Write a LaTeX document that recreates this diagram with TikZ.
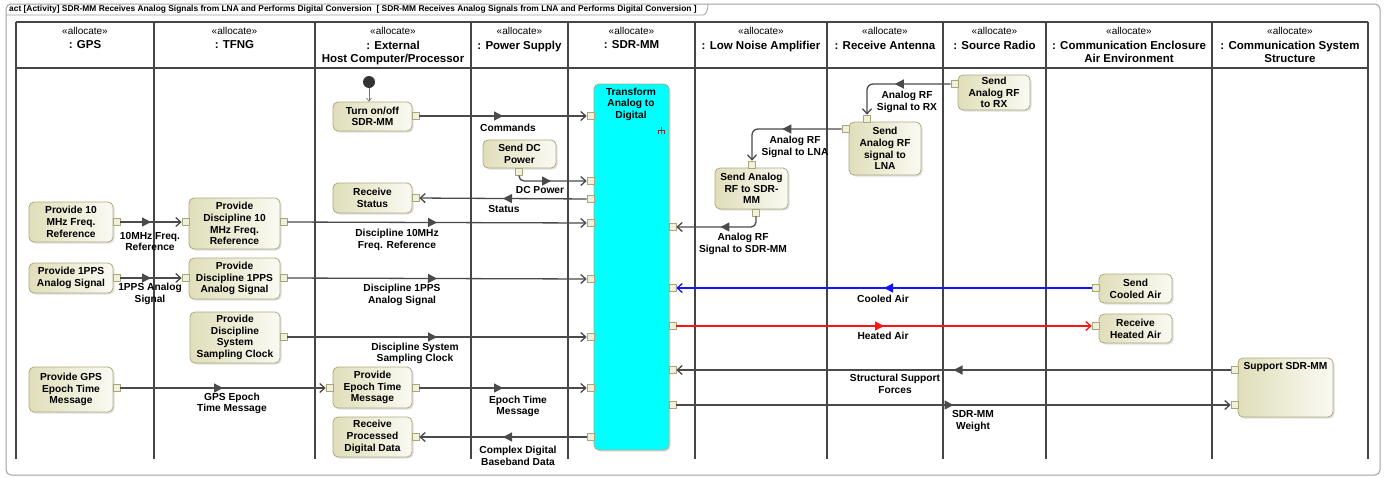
\documentclass[tikz,border=0pt]{standalone}
\usepackage{fontspec}
\setmainfont{Liberation Sans}
\usetikzlibrary{arrows.meta,decorations.markings,shadows}

\definecolor{framegray}{HTML}{A0A0A0}
\definecolor{lanegray}{HTML}{454545}
\definecolor{flowgray}{HTML}{4A4A4A}
\definecolor{actA}{HTML}{E0DEBA}
\definecolor{actB}{HTML}{FAFAF3}
\definecolor{actborder}{HTML}{ADAB80}
\definecolor{pinfill}{HTML}{F1F0DA}
\definecolor{pinborder}{HTML}{A8A67C}
\definecolor{rakered}{HTML}{8A2F2F}
\definecolor{cooledblue}{HTML}{1414FF}
\definecolor{heatedred}{HTML}{FF1414}
\definecolor{sdrcyan}{HTML}{00FFFF}

\newcommand\lblfont{\fontsize{10.2}{11.7}\selectfont\bfseries}
\newcommand\hdrfont{\fontsize{11.5}{13}\selectfont\bfseries}
\newcommand\stereofont{\fontsize{10}{12}\selectfont}
\newcommand\titlefont{\fontsize{8.4}{9}\selectfont\bfseries}

\tikzset{
  action/.style={rectangle, draw=actborder, line width=0.8pt, rounded corners=5pt,
    left color=actA, right color=actB, align=center, font=\lblfont, inner sep=1pt,
    drop shadow={opacity=0.25, shadow xshift=1.5pt, shadow yshift=-1.5pt}},
  sdrbox/.style={rectangle, draw=actborder, line width=0.8pt, rounded corners=5pt,
    fill=sdrcyan, inner sep=0pt,
    drop shadow={opacity=0.25, shadow xshift=1.5pt, shadow yshift=-1.5pt}},
  pinbox/.style={rectangle, draw=pinborder, fill=pinfill, line width=0.6pt,
    minimum size=7pt, inner sep=0pt},
  startdot/.style={circle, fill=black!80, minimum size=12pt, inner sep=0pt},
  midarrow/.style={postaction={decorate, decoration={markings,
    mark=at position 0.5 with {\arrow{Triangle[length=9pt,width=9pt]}}}}},
  flow/.style={color=flowgray, line width=1.3pt,
    -{Straight Barb[length=5pt,width=9pt]}, midarrow},
  initflow/.style={color=black!55, line width=0.7pt,
    -{Straight Barb[length=3pt,width=5pt]}},
  flowlabel/.style={font=\lblfont, align=center, inner sep=0pt},
  stereo/.style={font=\stereofont, inner sep=0pt},
  lanename/.style={font=\hdrfont, align=center, inner sep=0pt, anchor=north},
  lane/.style={color=lanegray, line width=1.5pt}
}

\begin{document}
\begin{tikzpicture}[x=1pt,y=-1pt]
\useasboundingbox (0,0) rectangle (1386,477);

% diagram frame and its name tab
\draw[framegray, line width=1pt, rounded corners=5pt] (6,4) rectangle (1380,475);
\draw[framegray, line width=0.8pt] (6,15) -- (703,15) .. controls (706,15) and (708,10) .. (708,4);
\node[font=\titlefont, anchor=west, inner sep=0pt] (title) at (9,9.6)
  {act [Activity] SDR-MM Receives Analog Signals from LNA and Performs Digital Conversion\ \ [ SDR-MM Receives Analog Signals from LNA and Performs Digital Conversion ]};

% swimlane grid
\draw[lane] (16,22) -- (1368,22);
\draw[lane] (16,68) -- (1368,68);
\foreach \lx in {16,154,315,471,568,695,827,943,1046,1212,1368}
  \draw[lane] (\lx,22) -- (\lx,459);

% lane headers
\foreach \cx/\nm/\lbl in {85/hGps/{: GPS}, 234.5/hTfng/{: TFNG},
    393/hHost/{: External\\Host Computer/Processor}, 519.5/hPower/{: Power Supply},
    631.5/hSdr/{: SDR-MM}, 761/hLna/{: Low Noise Amplifier},
    885/hAnt/{: Receive Antenna}, 994.5/hSrc/{: Source Radio},
    1129/hEnc/{: Communication Enclosure\\Air Environment},
    1290/hStruct/{: Communication System\\Structure}} {
  \node[stereo] (\nm S) at (\cx,31) {«allocate»};
  \node[lanename] (\nm) at (\cx,40.5) {\lbl};
}

% ---- GPS
\node[action, minimum width=84pt, minimum height=40pt] (gpsTen) at (71,222) {Provide 10\\MHz Freq.\\Reference};
\node[pinbox] (gpsTenOut) at (116.5,222) {};
\node[action, minimum width=84pt, minimum height=30pt] (gpsPps) at (71,278) {Provide 1PPS\\Analog Signal};
\node[pinbox] (gpsPpsOut) at (116.5,278) {};
\node[action, minimum width=84pt, minimum height=45pt] (gpsEpoch) at (71,389.5) {Provide GPS\\Epoch Time\\Message};
\node[pinbox] (gpsEpochOut) at (116.5,388) {};

% ---- TFNG
\node[action, minimum width=91pt, minimum height=51pt] (tfngTen) at (234.5,223.5) {Provide\\Discipline 10\\MHz Freq.\\Reference};
\node[pinbox] (tfngTenIn) at (185.5,222) {};
\node[pinbox] (tfngTenOut) at (283.5,222) {};
\node[action, minimum width=91pt, minimum height=41pt] (tfngPps) at (234.5,278.5) {Provide\\Discipline 1PPS\\Analog Signal};
\node[pinbox] (tfngPpsIn) at (185.5,278) {};
\node[pinbox] (tfngPpsOut) at (283.5,278) {};
\node[action, minimum width=90pt, minimum height=51pt] (tfngClk) at (235,337.5) {Provide\\Discipline\\System\\Sampling Clock};
\node[pinbox] (tfngClkOut) at (283.5,337) {};

% ---- External host computer
\node[startdot] (start) at (369,82) {};
\node[action, minimum width=79pt, minimum height=29pt] (turnOn) at (372.5,116.5) {Turn on/off\\SDR-MM};
\node[pinbox] (turnOnOut) at (415.5,116) {};
\node[action, minimum width=79pt, minimum height=30pt] (rcvStatus) at (372.5,198) {Receive\\Status};
\node[pinbox] (rcvStatusIn) at (415.5,198) {};
\node[action, minimum width=79pt, minimum height=41pt] (hostEpoch) at (372.5,387.5) {Provide\\Epoch Time\\Message};
\node[pinbox] (hostEpochIn) at (329.5,388) {};
\node[pinbox] (hostEpochOut) at (415.5,388) {};
\node[action, minimum width=79pt, minimum height=40pt] (rcvData) at (372.5,437) {Receive\\Processed\\Digital Data};
\node[pinbox] (rcvDataIn) at (415.5,437) {};

% ---- Power supply
\node[action, minimum width=73pt, minimum height=28pt] (dcPower) at (519.5,154) {Send DC\\Power};
\node[pinbox] (dcPowerOut) at (519,171.5) {};

% ---- SDR-MM
\node[sdrbox, minimum width=75pt, minimum height=366pt] (sdr) at (631.5,267) {};
\node[font=\lblfont, align=center, anchor=north, inner sep=0pt] (sdrText) at (631,87.5) {Transform\\Analog to\\Digital};
\draw[rakered, line width=0.6pt] (661,126.5) -- (661,130.5)
  (657.8,134) -- (657.8,130.5) -- (664.2,130.5) -- (664.2,134) (661,130.5) -- (661,134);
\foreach \py/\nm in {116/sdrCmd, 181/sdrDc, 199/sdrStatus, 223/sdrTen, 279/sdrPps,
    337/sdrClk, 388/sdrEpoch, 437/sdrData}
  \node[pinbox] (\nm) at (590.5,\py) {};
\foreach \py/\nm in {227/sdrRf, 288/sdrCool, 326/sdrHeat, 370/sdrForce, 405/sdrWeight}
  \node[pinbox] (\nm) at (672.5,\py) {};

% ---- Low noise amplifier
\node[action, minimum width=73pt, minimum height=41pt] (lnaSend) at (751.5,188.5) {Send Analog\\RF to SDR-\\MM};
\node[pinbox] (lnaIn) at (752,164.5) {};
\node[pinbox] (lnaOut) at (756,212.5) {};

% ---- Receive antenna
\node[action, minimum width=72pt, minimum height=53pt] (antSend) at (885,148.5) {Send\\Analog RF\\signal to\\LNA};
\node[pinbox] (antIn) at (867,118.5) {};
\node[pinbox] (antOut) at (845.5,129) {};

% ---- Source radio
\node[action, minimum width=72pt, minimum height=35pt] (srcSend) at (994,92.5) {Send\\Analog RF\\to RX};
\node[pinbox] (srcOut) at (954.5,84) {};

% ---- Communication enclosure air environment
\node[action, minimum width=73pt, minimum height=29pt] (cooled) at (1135.5,288.5) {Send\\Cooled Air};
\node[pinbox] (cooledOut) at (1095.5,288) {};
\node[action, minimum width=73pt, minimum height=29pt] (heated) at (1135.5,328.5) {Receive\\Heated Air};
\node[pinbox] (heatedIn) at (1095.5,326) {};

% ---- Communication system structure
\node[action, minimum width=95pt, minimum height=59pt] (support) at (1285.5,387.5) {};
\node[font=\lblfont, anchor=north, inner sep=0pt] (supportText) at (1285.5,362.5) {Support SDR-MM};
\node[pinbox] (supportOut) at (1234.5,370) {};
\node[pinbox] (supportIn) at (1234.5,405) {};

% ---- object flows
\draw[initflow] (start) -- (start |- turnOn.north);
\draw[flow] (turnOnOut) -- (sdrCmd);
\draw[flow, rounded corners=5pt] (dcPowerOut.south) |- (sdrDc.west);
\draw[flow] (sdrStatus) -- (rcvStatusIn);
\draw[flow] (gpsTenOut) -- (tfngTenIn);
\draw[flow] (gpsPpsOut) -- (tfngPpsIn);
\draw[flow] (tfngTenOut) -- (sdrTen);
\draw[flow] (tfngPpsOut) -- (sdrPps);
\draw[flow] (tfngClkOut) -- (sdrClk);
\draw[flow] (gpsEpochOut) -- (hostEpochIn);
\draw[flow] (hostEpochOut) -- (sdrEpoch);
\draw[flow] (sdrData) -- (rcvDataIn);
\draw[flow, rounded corners=6pt] (srcOut.west) -| (antIn.north);
\draw[flow, rounded corners=6pt] (antOut.west) -| (lnaIn.north);
\draw[flow, rounded corners=5pt] (lnaOut.south) |- (sdrRf.east);
\draw[flow, color=cooledblue] (cooledOut) -- (sdrCool);
\draw[flow, color=heatedred] (sdrHeat) -- (heatedIn);
\draw[flow] (supportOut) -- (sdrForce);
\draw[flow] (sdrWeight) -- (supportIn);

% ---- flow labels
\node[flowlabel] (lCmd) at (508,128) {Commands};
\node[flowlabel] (lDc) at (540,190) {DC Power};
\node[flowlabel] (lStatus) at (504,208.5) {Status};
\node[flowlabel] (lTen) at (150,241.5) {10MHz Freq.\\Reference};
\node[flowlabel] (lPps) at (150,294) {1PPS Analog\\Signal};
\node[flowlabel] (lDTen) at (397,240) {Discipline 10MHz\\Freq. Reference};
\node[flowlabel] (lDPps) at (402,295) {Discipline 1PPS\\Analog Signal};
\node[flowlabel] (lClk) at (415,353.5) {Discipline System\\Sampling Clock};
\node[flowlabel] (lGpsEpoch) at (232,403.5) {GPS Epoch\\Time Message};
\node[flowlabel] (lEpoch) at (518,406.5) {Epoch Time\\Message};
\node[flowlabel] (lData) at (518,455.5) {Complex Digital\\Baseband Data};
\node[flowlabel] (lRx) at (907,102) {Analog RF\\Signal to RX};
\node[flowlabel] (lLna) at (795,147) {Analog RF\\Signal to LNA};
\node[flowlabel] (lSdrRf) at (743,244) {Analog RF\\Signal to SDR-MM};
\node[flowlabel] (lCool) at (883,299) {Cooled Air};
\node[flowlabel] (lHeat) at (883,336) {Heated Air};
\node[flowlabel] (lForce) at (895,384) {Structural Support\\Forces};
\node[flowlabel] (lWeight) at (973,421) {SDR-MM\\Weight};
\end{tikzpicture}
\end{document}
